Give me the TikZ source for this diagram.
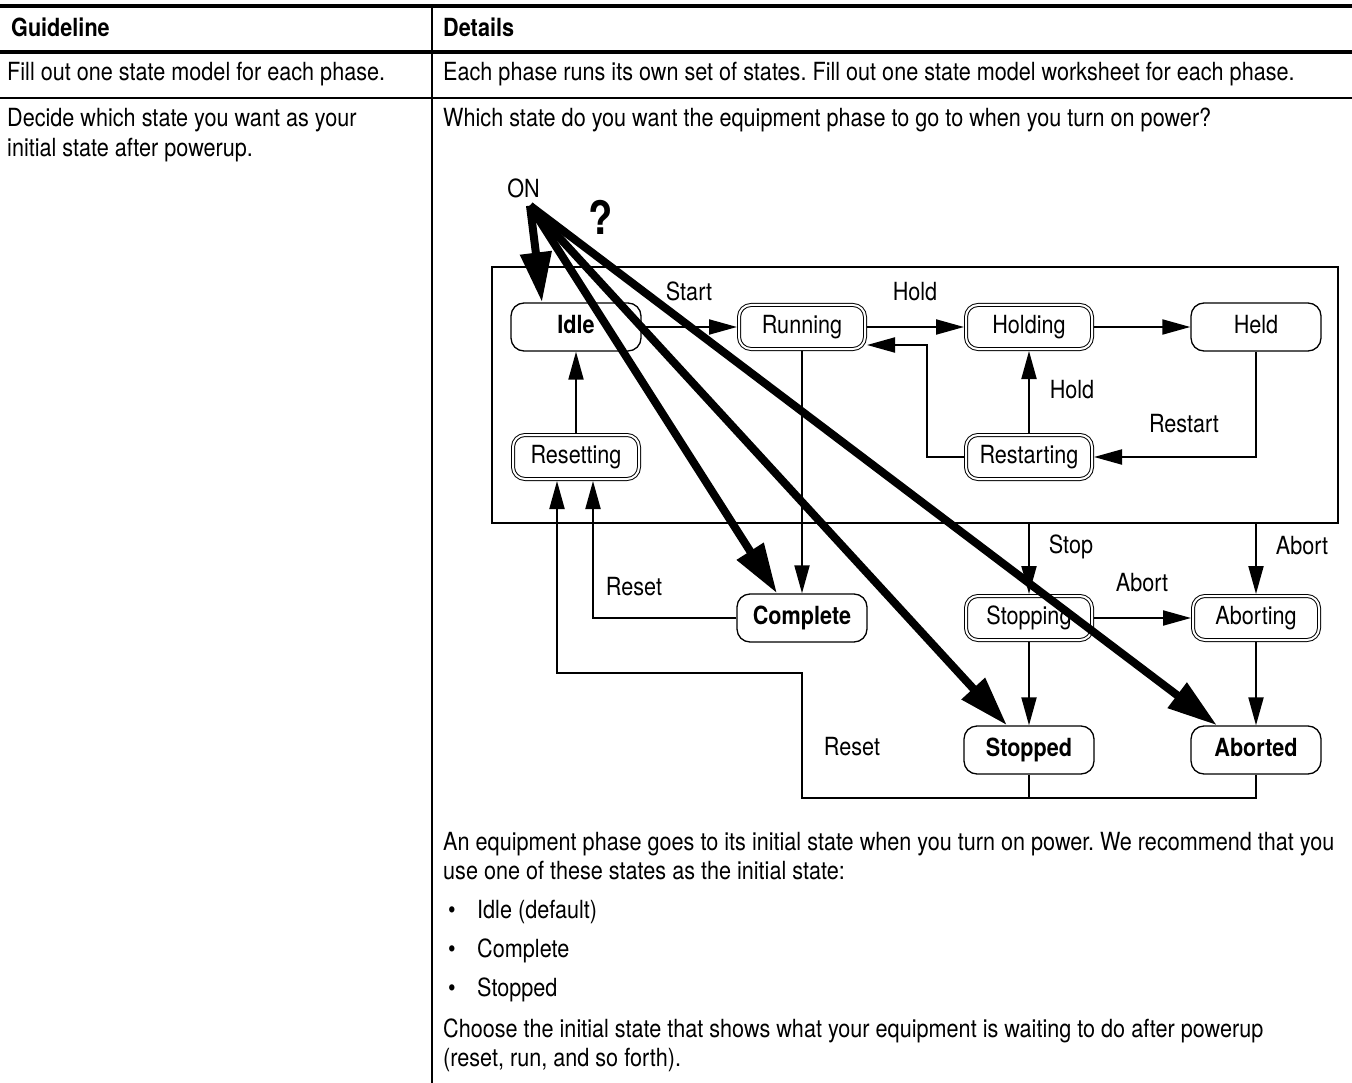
\documentclass[tikz,border=0pt]{standalone}
\usepackage{fontspec}
\setmainfont{TeX Gyre Heros}[FakeStretch=0.865]
\usetikzlibrary{arrows.meta,calc}
\frenchspacing
\tikzset{
  body/.style={inner sep=0pt, font=\fontsize{25}{30}\selectfont},
  txt/.style={body, anchor=base west},
  lbl/.style={body, anchor=base},
  st/.style={draw, fill=white, rounded corners=13pt, minimum width=130pt, minimum height=48pt,
     inner sep=0pt, line width=1.3pt, outer sep=0.65pt, text height=18pt, text depth=5pt,
     font=\fontsize{25}{30}\selectfont},
  bst/.style={st, font=\fontsize{25}{30}\selectfont\bfseries},
  dst/.style={st, double, double distance=2pt, line width=1pt, minimum width=126pt,
     minimum height=44pt, rounded corners=12pt, outer sep=2pt},
  conn/.style={line width=2pt, -{Triangle[length=28pt,width=15pt]}},
  plain/.style={line width=2pt},
  big/.style={line width=8pt, -{Triangle[length=50pt,width=30pt]}}
}
\begin{document}
\frenchspacing
\begin{tikzpicture}[x=1pt,y=-1pt]
\useasboundingbox (0,0) rectangle (1352,1083);
% table rules
\draw[line width=4pt] (0,6) -- (1352,6);
\draw[line width=3.3pt] (0,52) -- (1352,52);
\draw[line width=2.7pt] (0,98) -- (1352,98);
\draw[line width=2.4pt] (432,6) -- (432,1083);
% table text
\node[txt, font=\fontsize{25}{30}\selectfont\bfseries] (h1) at (11,37) {Guideline};
\node[txt, font=\fontsize{25}{30}\selectfont\bfseries] (h2) at (443,37) {Details};
\node[txt] (r1a) at (7,81) {Fill out one state model for each phase.};
\node[txt] (r1b) at (443,81) {Each phase runs its own set of states. Fill out one state model worksheet for each phase.};
\node[txt] (r2a) at (7,127) {Decide which state you want as your};
\node[txt] (r2b) at (7,157) {initial state after powerup.};
\node[txt] (r2c) at (443,127) {Which state do you want the equipment phase to go to when you turn on power?};
\node[txt] (p1) at (443,850) {An equipment phase goes to its initial state when you turn on power. We recommend that you};
\node[txt] (p2) at (443,879) {use one of these states as the initial state:};
\node[lbl] (b1) at (452,918) {\textbullet};
\node[txt] (i1) at (477,918) {Idle (default)};
\node[lbl] (b2) at (452,957) {\textbullet};
\node[txt] (i2) at (477,957) {Complete};
\node[lbl] (b3) at (452,996) {\textbullet};
\node[txt] (i3) at (477,996) {Stopped};
\node[txt] (p3) at (443,1037) {Choose the initial state that shows what your equipment is waiting to do after powerup};
\node[txt] (p4) at (443,1066) {(reset, run, and so forth).};
% diagram
\node[draw, line width=2.3pt, minimum width=846pt, minimum height=256pt, inner sep=0pt] (frame) at (915,395) {};
\node[bst] (idle) at (576,327) {Idle};
\node[dst] (running) at (802,327) {Running};
\node[dst] (holding) at (1029,327) {Holding};
\node[st] (held) at (1256,327) {Held};
\node[dst] (resetting) at (576,457) {Resetting};
\node[dst] (restarting) at (1029,457) {Restarting};
\node[bst] (complete) at (802,618) {Complete};
\node[dst] (stopping) at (1029,618) {Stopping};
\node[dst] (aborting) at (1256,618) {Aborting};
\node[bst] (stopped) at (1029,750) {Stopped};
\node[bst] (aborted) at (1256,750) {Aborted};
% connectors
\draw[conn] (idle.east) -- (running.west);
\draw[conn] (running.east) -- (holding.west);
\draw[conn] (holding.east) -- (held.west);
\draw[conn] (held.south) |- (restarting.east);
\draw[conn] (restarting.north) -- (holding.south);
\draw[conn] (restarting.west) -- ++(-37,0) |- ($(running.east)+(0,18)$);
\draw[conn] (resetting.north) -- (idle.south);
\draw[conn] (running.south) -- (complete.north);
\draw[conn] (complete.west) -| ($(resetting.south)+(17,0)$);
\draw[plain] (aborted.south) -- ++(0,23) -- ($(stopped.south)+(0,23)$);
\draw[conn] (stopped.south) -- ++(0,23) -| ($(complete.south)+(0,30)$) -| ($(resetting.south)+(-19,0)$);
\draw[conn] (frame.south -| stopping.north) -- (stopping.north);
\draw[conn] (frame.south -| aborting.north) -- (aborting.north);
\draw[conn] (stopping.east) -- (aborting.west);
\draw[conn] (stopping.south) -- (stopped.north);
\draw[conn] (aborting.south) -- (aborted.north);
% labels
\node[lbl] (lstart) at (689,301) {Start};
\node[lbl] (lhold1) at (915,301) {Hold};
\node[lbl] (lhold2) at (1072,398) {Hold};
\node[lbl] (lrestart) at (1184,432) {Restart};
\node[lbl] (lreset1) at (634,595) {Reset};
\node[lbl] (lreset2) at (852,755) {Reset};
\node[lbl] (lstop) at (1071,553) {Stop};
\node[lbl] (labort1) at (1302,554) {Abort};
\node[lbl] (labort2) at (1142,591) {Abort};
\node[lbl] (on) at (523.5,198) {ON};
\node[lbl, font=\fontsize{46}{50}\selectfont\bfseries] (q) at (601,235) {?};
% power-on arrows
\coordinate (O) at ($(on.south)+(6.5,7)$);
\draw[big] (O) -- ($(idle.north)+(-34,0)$);
\draw[big] (O) -- ($(complete.north)+(-25,0)$);
\draw[big] (O) -- ($(stopped.north)+(-22,0)$);
\draw[big] (O) -- ($(aborted.north)+(-39,0)$);
\end{tikzpicture}
\end{document}
